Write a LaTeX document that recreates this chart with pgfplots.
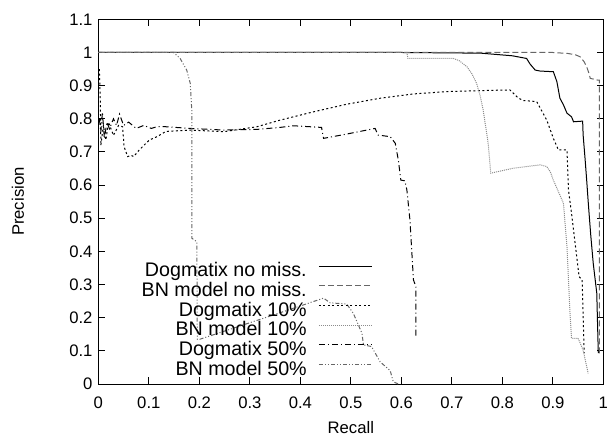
\documentclass[border=0pt]{standalone}
\usepackage{fontspec}
\setmainfont{Liberation Sans}
\usepackage{pgfplots}
\pgfplotsset{compat=1.18}
\definecolor{g1}{gray}{0.40}
\definecolor{g2}{gray}{0.55}
\definecolor{g3}{gray}{0.40}
\begin{document}
\begin{tikzpicture}
\begin{axis}[
  scale only axis, width=303pt, height=218.8pt,
  xmin=0, xmax=1, ymin=0, ymax=1.1,
  xtick={0,0.1,0.2,0.3,0.4,0.5,0.6,0.7,0.8,0.9,1},
  ytick={0,0.1,0.2,0.3,0.4,0.5,0.6,0.7,0.8,0.9,1,1.1},
  /pgf/number format/.cd, fixed, precision=1, assume math mode=true, /pgfplots/.cd,
  tick align=inside, major tick length=4pt,
  tick label style={font=\fontsize{10}{12}\selectfont},
  xticklabel style={yshift=-4pt},
  label style={font=\fontsize{10}{12}\selectfont},
  xlabel={Recall}, ylabel={Precision},
  xlabel style={at={(axis description cs:0.5,-0.1205)}, anchor=center},
  ylabel style={at={(axis description cs:-0.159,0.5)}, anchor=center},
  axis line style={line width=0.6pt},
  every tick/.style={line width=0.6pt, black},
  every axis plot/.append style={line width=0.6pt},
  legend style={at={(axis cs:0.544,0.012)}, anchor=south east, draw=none, fill=none,
    font=\fontsize{11.8}{13}\selectfont, inner sep=0pt, row sep=0.6pt, column sep=7pt,
    nodes={inner sep=0pt, text height=8.5pt, text depth=2.7pt}},
  legend cell align=right, legend plot pos=right,
  legend image code/.code={\draw[#1] (0pt,3.5pt) -- (32pt,3.5pt);},
]
% Dogmatix no miss.
\addplot[black, solid] coordinates {
(0,1) (0.6,1) (0.757,0.998) (0.82,0.99) (0.848,0.982) (0.855,0.965) (0.865,0.947)
(0.875,0.944) (0.901,0.942) (0.905,0.925) (0.908,0.912) (0.914,0.862) (0.921,0.842)
(0.928,0.817) (0.937,0.806) (0.941,0.791) (0.959,0.793) (0.960,0.751) (0.964,0.676)
(0.967,0.615) (0.970,0.55) (0.975,0.45) (0.980,0.364) (0.987,0.274) (0.990,0.093)};
\addlegendentry{Dogmatix no miss.}
% BN model no miss.
\addplot[g1, dash pattern=on 3.6pt off 1.8pt] coordinates {
(0,1) (0.9,1) (0.93,0.997) (0.945,0.993) (0.954,0.987) (0.962,0.972) (0.967,0.957)
(0.972,0.935) (0.974,0.922) (0.988,0.917) (0.992,0.917) (0.992,0.09)};
\addlegendentry{BN model no miss.}
% Dogmatix 10%
\addplot[black, dash pattern=on 1.2pt off 1.5pt] coordinates {
(0.002,0.95) (0.004,0.85) (0.005,0.72) (0.01,0.78) (0.015,0.736) (0.02,0.79) (0.03,0.75)
(0.04,0.78) (0.048,0.776) (0.051,0.716) (0.058,0.686) (0.065,0.69) (0.07,0.686)
(0.081,0.706) (0.101,0.736) (0.116,0.746) (0.134,0.762) (0.182,0.766) (0.248,0.761)
(0.314,0.776) (0.360,0.796) (0.426,0.821) (0.492,0.844) (0.558,0.862) (0.624,0.875)
(0.690,0.882) (0.756,0.885) (0.815,0.887) (0.832,0.862) (0.842,0.855) (0.868,0.852)
(0.888,0.796) (0.901,0.741) (0.911,0.706) (0.928,0.706) (0.931,0.585) (0.934,0.55)
(0.937,0.515) (0.952,0.324) (0.958,0.314) (0.962,0.093)};
\addlegendentry{Dogmatix 10\%}
% BN model 10%
\addplot[g2, dash pattern=on 0.6pt off 0.6pt] coordinates {
(0,1) (0.611,1) (0.613,0.982) (0.703,0.982) (0.715,0.975) (0.730,0.957) (0.740,0.935)
(0.749,0.907) (0.756,0.87) (0.762,0.827) (0.772,0.726) (0.777,0.636) (0.822,0.651)
(0.875,0.661) (0.888,0.656) (0.895,0.64) (0.901,0.615) (0.921,0.545) (0.928,0.414)
(0.934,0.213) (0.937,0.138) (0.950,0.138) (0.960,0.102) (0.970,0.032)};
\addlegendentry{BN model 10\%}
% Dogmatix 50%
\addplot[black, dash pattern=on 3.6pt off 1.8pt on 0.6pt off 1.8pt] coordinates {
(0.002,0.80) (0.005,0.76) (0.008,0.82) (0.012,0.74) (0.017,0.79) (0.022,0.77) (0.03,0.80)
(0.036,0.78) (0.042,0.814) (0.05,0.78) (0.06,0.79) (0.075,0.771) (0.09,0.78)
(0.105,0.771) (0.116,0.776) (0.134,0.776) (0.182,0.771) (0.248,0.766) (0.314,0.768)
(0.360,0.774) (0.386,0.779) (0.442,0.774) (0.446,0.741) (0.492,0.754) (0.548,0.771)
(0.554,0.751) (0.578,0.746) (0.588,0.726) (0.594,0.676) (0.599,0.615) (0.607,0.613)
(0.611,0.585) (0.617,0.495) (0.624,0.314) (0.629,0.293) (0.629,0.138)};
\addlegendentry{Dogmatix 50\%}
% BN model 50%
\addplot[g3, dash pattern=on 2.4pt off 1.2pt on 0.6pt off 1.2pt on 0.6pt off 1.2pt] coordinates {
(0,1) (0.149,1) (0.162,0.982) (0.175,0.947) (0.182,0.907) (0.185,0.827) (0.185,0.44)
(0.195,0.429) (0.196,0.135) (0.201,0.135) (0.35,0.21) (0.446,0.259) (0.459,0.245)
(0.492,0.241) (0.505,0.213) (0.522,0.153) (0.525,0.118) (0.541,0.113) (0.558,0.067)
(0.578,0.040) (0.584,0.007) (0.594,0)};
\addlegendentry{BN model 50\%}
\end{axis}
\pgfresetboundingbox
\path (-59pt,-33pt) rectangle (307pt,230.4pt);
\end{tikzpicture}
\end{document}
